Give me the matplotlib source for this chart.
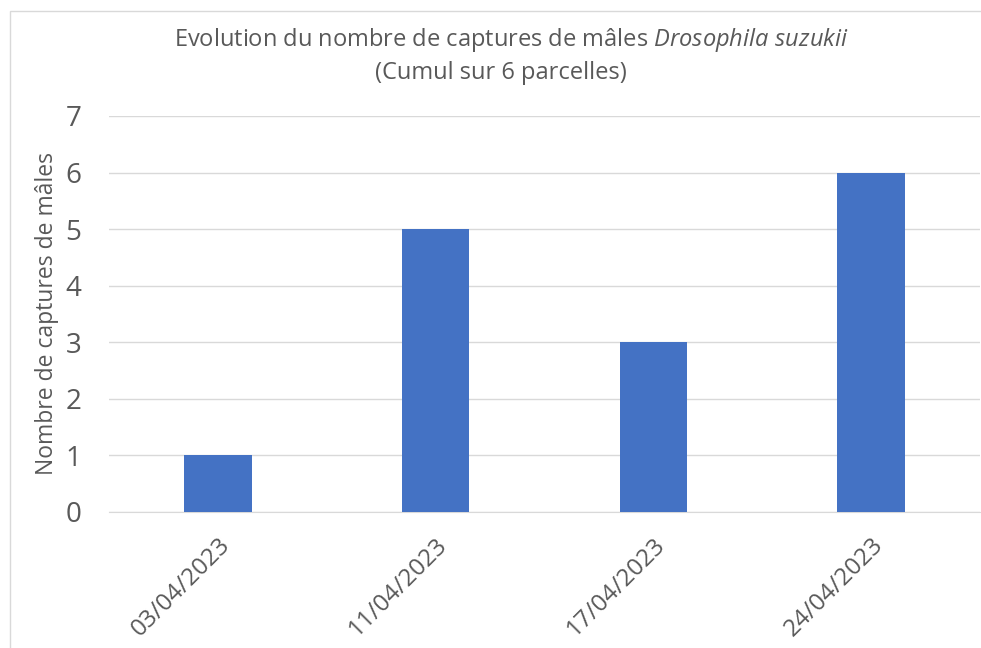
import matplotlib
matplotlib.use("Agg")
import matplotlib.pyplot as plt
from matplotlib.patches import Rectangle

dates = ["03/04/2023", "11/04/2023", "17/04/2023", "24/04/2023"]
captures = [1, 5, 3, 6]
yticks = [0, 1, 2, 3, 4, 5, 6, 7]

plt.rcParams['font.family'] = ['Open Sans', 'DejaVu Sans']
plt.rcParams['mathtext.fontset'] = 'custom'
plt.rcParams['mathtext.rm'] = 'Open Sans'
plt.rcParams['mathtext.it'] = 'Open Sans:italic'

txt = '#595959'
fig = plt.figure(figsize=(9.81, 6.48), dpi=100)
ax = fig.add_axes([109/981, 1-512/648, (980-109)/981, (512-116)/648])

x = list(range(len(dates)))
ax.bar(x, captures, width=0.31, color='#4472C4', zorder=3)
ax.set_xlim(-0.5, len(dates)-0.5)
ax.set_ylim(0, 7)
ax.set_yticks(yticks)
ax.set_yticklabels([str(v) for v in yticks], fontsize=20, color=txt)
ax.set_xticks(x)
ax.set_xticklabels(dates, rotation=45, ha='right', rotation_mode='anchor', fontsize=17.5, color=txt)
ax.tick_params(axis='both', length=0)
ax.tick_params(axis='y', pad=20)
ax.tick_params(axis='x', pad=15)
ax.grid(axis='y', color='#D9D9D9', linewidth=1, zorder=0)
for s in ['top', 'right', 'left']:
    ax.spines[s].set_visible(False)
ax.spines['bottom'].set_color('#D9D9D9')
ax.set_ylabel('Nombre de captures de mâles', fontsize=16.5, color=txt)
ax.yaxis.set_label_coords(-50/871, 0.5)

fig.text(511/981, 1-40/648, r'Evolution du nombre de captures de mâles $\mathit{Drosophila\ suzukii}$',
         ha='center', va='center', fontsize=17, color=txt)
fig.text(501/981, 1-73/648, '(Cumul sur 6 parcelles)', ha='center', va='center', fontsize=17, color=txt)

fig.patches.append(Rectangle((10/981, -0.1), 1.2, 1 - 11/648 + 0.1, transform=fig.transFigure,
                             fill=False, edgecolor='#D9D9D9', linewidth=1))

fig.savefig('out.png', dpi=100)
